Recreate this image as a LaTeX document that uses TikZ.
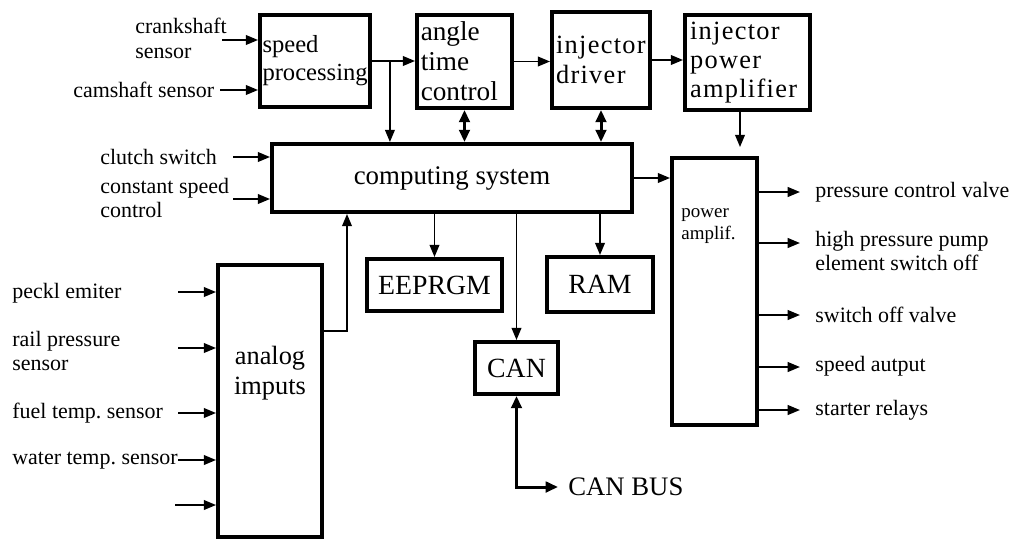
\documentclass[tikz,border=0pt]{standalone}
\usepackage{fontspec}
\setmainfont{Liberation Serif}
\usetikzlibrary{arrows.meta,calc}
\frenchspacing

\begin{document}
\begin{tikzpicture}[
  blk/.style={draw, line width=2.2pt, inner sep=0pt, align=left, font=\fontsize{15}{16.5}\selectfont},
  sig/.style={line width=1.1pt, -{Triangle[length=7pt,width=5.5pt]}},
  bus/.style={line width=1.7pt, {Triangle[length=7pt,width=6pt]}-{Triangle[length=7pt,width=6pt]}},
  lbl/.style={inner sep=0pt, anchor=west, align=left, font=\fontsize{12.5}{14.2}\selectfont}]
\useasboundingbox (0,0) rectangle (20.260,-10.760);
\begin{scope}
\node[blk, minimum width=2.200cm, minimum height=1.840cm, text width=2.100cm, font=\fontsize{14}{16}\selectfont] (speed) at (6.300,-1.220) {speed\\processing};
\node[blk, minimum width=1.900cm, minimum height=1.860cm, text width=1.750cm, font=\fontsize{15.5}{17}\selectfont] (angle) at (9.290,-1.230) {angle\\time\\control};
\node[blk, minimum width=1.960cm, minimum height=1.920cm, text width=1.800cm, font=\fontsize{15}{17}\selectfont\addfontfeature{LetterSpace=5}] (injdrv) at (12.020,-1.200) {injector\\driver};
\node[blk, minimum width=2.500cm, minimum height=1.900cm, text width=2.300cm, font=\fontsize{15}{16.5}\selectfont\addfontfeature{LetterSpace=5}] (injpow) at (14.950,-1.250) {injector\\power\\amplifier};
\node[blk, align=center, minimum width=7.200cm, minimum height=1.360cm, font=\fontsize{15.3}{17}\selectfont] (comp) at (9.040,-3.560) {computing system};
\node[blk, minimum width=1.700cm, minimum height=5.340cm, label={[anchor=north west, inner sep=0pt, align=left, font=\fontsize{10.8}{12.5}\selectfont, xshift=0.220cm, yshift=-1.050cm]north west:{power\\amplif.}}] (pamp) at (14.290,-5.830) {};
\node[blk, minimum width=2.700cm, minimum height=1.040cm, font=\fontsize{15.8}{17}\selectfont] (eeprgm) at (8.690,-5.700) {EEPRGM};
\node[blk, minimum width=2.120cm, minimum height=1.100cm, font=\fontsize{15.8}{17}\selectfont] (ram) at (12.000,-5.690) {RAM};
\node[blk, minimum width=1.660cm, minimum height=1.040cm, font=\fontsize{15.8}{17}\selectfont] (can) at (10.330,-7.360) {CAN};
\node[blk, minimum width=2.080cm, minimum height=5.440cm, label={[align=center, yshift=0.560cm, font=\fontsize{15}{17}\selectfont]center:{analog\\imputs}}] (analog) at (5.400,-8.020) {};
\node[anchor=west, inner sep=0pt, font=\fontsize{15.2}{17}\selectfont] (canbus) at (11.360,-9.740) {CAN BUS};
\end{scope}
\begin{scope}
\node[lbl] (crank) at (2.700,-0.760) {crankshaft\\sensor};
\node[lbl] (cam) at (1.460,-1.800) {camshaft sensor};
\node[lbl] (clutch) at (2.000,-3.140) {clutch switch};
\node[lbl] (cspeed) at (2.000,-3.960) {constant speed\\control};
\node[lbl] (peckl) at (0.240,-5.860) {peckl emiter};
\node[lbl] (rail) at (0.240,-7.020) {rail pressure\\sensor};
\node[lbl] (fuel) at (0.240,-8.260) {fuel temp. sensor};
\node[lbl] (water) at (0.240,-9.220) {water temp. sensor};
\coordinate (c1) at (4.440,-0.800);
\coordinate (c2) at (4.400,-1.800);
\coordinate (c3) at (4.660,-3.140);
\coordinate (c4) at (4.660,-3.980);
\coordinate (c5) at (3.560,-5.840);
\coordinate (c6) at (3.560,-6.960);
\coordinate (c7) at (3.560,-8.260);
\coordinate (c8) at (3.560,-9.200);
\coordinate (c9) at (3.500,-10.100);
\draw[sig] (c1) -- (c1 -| speed.west);
\draw[sig] (c2) -- (c2 -| speed.west);
\draw[sig] (c3) -- (c3 -| comp.west);
\draw[sig] (c4) -- (c4 -| comp.west);
\draw[sig] (c5) -- (c5 -| analog.west);
\draw[sig] (c6) -- (c6 -| analog.west);
\draw[sig] (c7) -- (c7 -| analog.west);
\draw[sig] (c8) -- (c8 -| analog.west);
\draw[sig] (c9) -- (c9 -| analog.west);
\end{scope}
\begin{scope}
\node[lbl] (pcv) at (16.300,-3.840) {pressure control valve};
\node[lbl] (hpp) at (16.300,-5.020) {high pressure pump\\element switch off};
\node[lbl] (sov) at (16.300,-6.300) {switch off valve};
\node[lbl] (sao) at (16.300,-7.320) {speed autput};
\node[lbl] (srl) at (16.300,-8.200) {starter relays};
\coordinate (o1) at (16.000,-3.840);
\coordinate (o2) at (16.000,-4.860);
\coordinate (o3) at (16.000,-6.300);
\coordinate (o4) at (16.000,-7.340);
\coordinate (o5) at (16.000,-8.200);
\draw[sig] (o1 -| pamp.east) -- (o1);
\draw[sig] (o2 -| pamp.east) -- (o2);
\draw[sig] (o3 -| pamp.east) -- (o3);
\draw[sig] (o4 -| pamp.east) -- (o4);
\draw[sig] (o5 -| pamp.east) -- (o5);
\end{scope}
\coordinate (br) at ($(speed.east)+(0.360,0)$);
\coordinate (pd) at ($(injpow.south)+(-0.150,0)$);
\coordinate (aup) at (6.940,-6.620);
\draw[sig] (speed.east) -- (speed.east -| angle.west);
\draw[sig] (br) -- (br |- comp.north);
\draw[sig] (angle.east) -- (angle.east -| injdrv.west);
\draw[sig] (injdrv.east) -- (injdrv.east -| injpow.west);
\draw[bus] (angle.south) -- (angle.south |- comp.north);
\draw[bus] (injdrv.south) -- (injdrv.south |- comp.north);
\draw[sig, shorten >=0.180cm] (pd) -- (pd |- pamp.north);
\draw[sig] (comp.east) -- (comp.east -| pamp.west);
\draw[sig] (comp.south -| eeprgm.north) -- (eeprgm.north);
\draw[sig] (comp.south -| ram.north) -- (ram.north);
\draw[sig] (comp.south -| can.north) -- (can.north);
\draw[sig] (aup -| analog.east) -- (aup) -- (aup |- comp.south);
\draw[bus, shorten >=0.200cm] (can.south) |- (canbus.west);
\end{tikzpicture}
\end{document}
